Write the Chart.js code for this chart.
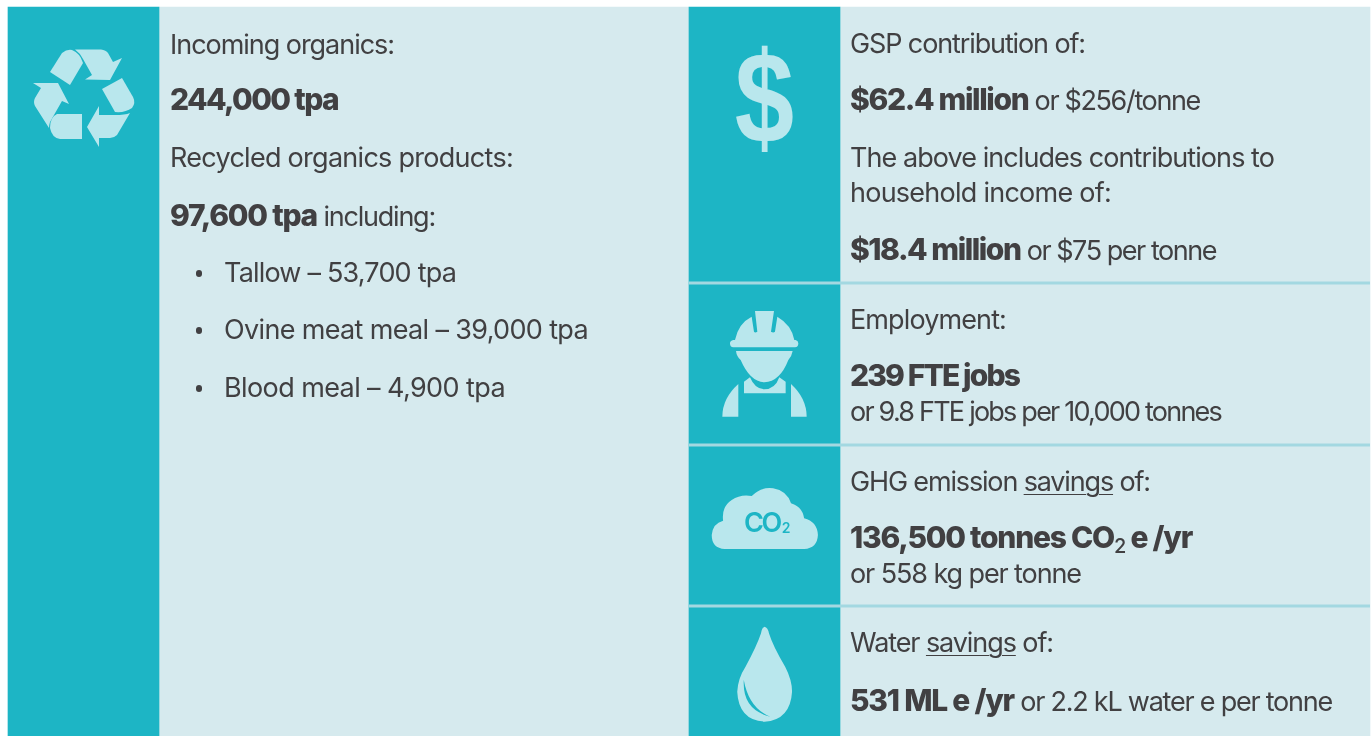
<!DOCTYPE html>
<html>
<head>
<meta charset="utf-8">
<style>
  body { margin: 0; background: #fff; }
  #wrap { position: relative; width: 1372px; height: 736px; overflow: hidden; font-family: Inter, sans-serif; color: #414042; }
  canvas { position: absolute; left: 0; top: 0; }
  svg { position: absolute; left: 0; top: 0; }
  .t { position: absolute; white-space: nowrap; font-size: 27px; letter-spacing: -1px; line-height: 34px; transform: translateY(-50%); }
  .t b { font-size: 30px; font-weight: 800; }
  .t u { text-underline-offset: 3px; text-decoration-thickness: 1px; }
  .t sub { font-size: 20px; line-height: 0; vertical-align: -5px; font-weight: 500; }
  .bullet { position: absolute; left: 195.5px; width: 6.5px; height: 6.5px; border-radius: 50%; background: #414042; }
  #dollar { position: absolute; left: 689px; width: 151px; top: 32px; text-align: center; font: 700 130px/130px "Liberation Sans", sans-serif; color: #b9e7ed; transform: scaleX(0.82); }
  #co2 { position: absolute; left: 744px; top: 508px; font: 600 27px/30px Inter, sans-serif; letter-spacing: -2.5px; color: #1db5c5; }
  #co2 sub { font-size: 14px; line-height: 0; vertical-align: -1px; letter-spacing: 0; margin-left: 2px; }
</style>
</head>
<body>
<div id="wrap">
  <canvas id="painel" width="1372" height="736"></canvas>
  <svg width="1372" height="736" fill="#b9e7ed">
    <!-- reciclagem -->
    <path d="M50,72 L62,53 Q67,49 72,50 Q80,53 83,63 L70,85 Z"/>
    <path d="M75,49.5 L101,49.5 Q106,50 108,53 L113,62 L122,58 L110,80 L85,79.5 L92,75 L83,59 Q80,53 75,49.5 Z"/>
    <path d="M102,89 L122,78 L133,97 Q136,103 132,108 Q125,113 115,112 Z"/>
    <path d="M130,113 L117,135 Q114,138 110,138 L99,138 L99,147 L87,127 L99,106 L99,115 L115,115 Q125,115 130,113 Z"/>
    <path d="M82,114 L82,139 L60,139 Q52,138 50,128 Q50,117 57,114 Z"/>
    <path d="M33,83 L58,83 L69,104 L62,101 L50,122 Q49,125 49,128 L35,106 Q33,102 35,98 L41,88 Z"/>
    <!-- trabalhador -->
    <g transform="translate(680,270) scale(0.3333)">
      <path d="M150,220 Q150,212 160,210 L165,210 Q175,160 215,140 L222,185 Q225,190 232,185 L225,123 L282,123 L273,185 Q280,190 285,185 L292,140 Q335,165 343,210 L347,210 Q355,212 355,220 Q355,232 345,232 L160,232 Q150,232 150,220 Z"/>
      <path d="M168,243 L338,243 Q335,260 325,270 Q300,335 253,337 Q210,335 182,270 Q170,260 168,243 Z"/>
      <path d="M192,335 L210,322 Q225,358 253,358 Q285,358 298,322 L317,335 L317,370 L192,370 Z"/>
      <path d="M175,342 L175,440 L127,440 Q127,385 175,342 Z"/>
      <path d="M333,342 Q380,385 380,440 L333,440 Z"/>
    </g>
    <!-- nuvem e gota -->
    <g transform="translate(680,470) scale(0.3448,0.3333)">
      <path d="M130,237 Q92,235 92,195 Q95,160 125,152 Q120,110 150,90 Q175,72 208,78 Q235,50 270,55 Q310,62 322,100 Q355,110 360,145 Q398,155 400,195 Q398,235 360,237 Z"/>
      <path d="M245,470 Q255,472 258,490 Q270,530 305,590 Q325,630 325,665 Q320,750 245,755 Q170,750 166,665 Q168,625 190,590 Q222,530 235,490 Q238,472 245,470 Z"/>
      <path d="M185,630 Q180,720 262,740 Q200,715 185,630 Z" fill="#1db5c5"/>
    </g>
  </svg>
  <div id="dollar">$</div>
  <div id="co2">CO<sub>2</sub></div>
</div>

<script src="https://cdn.jsdelivr.net/npm/chart.js@4"></script>
<script>
// textos do painel esquerdo
const leftHeadings = ["Incoming organics:", "<b>244,000 tpa</b>", "Recycled organics products:", "<b>97,600 tpa</b> including:"]
const leftProducts = ["Tallow", "Ovine meat meal", "Blood meal"]
const leftTonnes = ["53,700", "39,000", "4,900"]

// textos do painel direito, um array por linha da tabela
const gspLines = ["GSP contribution of:", "<b>$62.4 million</b> or $256/tonne", "The above includes contributions to", "household income of:", "<b>$18.4 million</b> or $75 per tonne"]
const jobLines = ["Employment:", "<b>239 FTE jobs</b>", "or 9.8 FTE jobs per 10,000 tonnes"]
const ghgLines = ["GHG emission <u>savings</u> of:", "<b>136,500 tonnes CO<sub>2</sub> e /yr</b>", "or 558 kg per tonne"]
const waterLines = ["Water <u>savings</u> of:", "<b>531 ML e /yr</b> or 2.2 kL water e per tonne"]

// centro vertical de cada linha de texto
const leftRows = [45, 100, 158, 216]
const productRows = [273, 330, 388]
const gspRows = [44, 100, 158, 193, 250]
const jobRows = [320, 376, 412]
const ghgRows = [482, 538, 574]
const waterRows = [643, 701]

// onde cada linha termina na horizontal
const leftEnds = [394, 338, 513, 435]
const productEnds = [456, 588, 505]
const gspEnds = [1085, 1200, 1274, 1111, 1216]
const jobEnds = [1006, 1019, 1221]
const ghgEnds = [1150, 1192, 1081]
const waterEnds = [1053, 1332]

// faixas do desenho, em pixels da pagina
const iconBands = [[8, 159], [689, 840]]
const textBands = [[159, 689], [840, 1370]]
const dividerRows = [283, 445, 606]
const bandRow = 371.5

const wrap = document.getElementById("wrap")

// a fonte original nao existe aqui, entao ajusta o espacamento ate a linha terminar no lugar certo
function addLine(html, x, y, end) {
  const el = document.createElement("div")
  el.className = "t"
  el.style.left = x + "px"
  el.style.top = y + "px"
  el.innerHTML = html
  wrap.appendChild(el)
  const sobra = end - x - el.getBoundingClientRect().width
  el.style.letterSpacing = (-1 + sobra / el.textContent.length) + "px"
}

leftHeadings.forEach((txt, i) => addLine(txt, 170, leftRows[i], leftEnds[i]))
leftProducts.forEach((name, i) => {
  addLine(name + " – " + leftTonnes[i] + " tpa", 224, productRows[i], productEnds[i])
  const dot = document.createElement("div")
  dot.className = "bullet"
  dot.style.top = (productRows[i] - 3) + "px"
  wrap.appendChild(dot)
})
gspLines.forEach((txt, i) => addLine(txt, 850, gspRows[i], gspEnds[i]))
jobLines.forEach((txt, i) => addLine(txt, 850, jobRows[i], jobEnds[i]))
ghgLines.forEach((txt, i) => addLine(txt, 850, ghgRows[i], ghgEnds[i]))
waterLines.forEach((txt, i) => addLine(txt, 850, waterRows[i], waterEnds[i]))

// as linhas vem primeiro porque o primeiro dataset fica por cima
const dividers = dividerRows.map(row => ({
  type: "line",
  data: [{x: iconBands[1][0], y: row}, {x: textBands[1][1], y: row}],
  borderColor: "#a3d8e1",
  borderWidth: 3,
  pointRadius: 0
}))

new Chart(document.getElementById("painel"), {
  type: "bar",
  data: {
    datasets: [
      ...dividers,
      {
        data: iconBands.map(band => ({x: band, y: bandRow})),
        backgroundColor: "#1db5c5",
        barThickness: 729,
        grouped: false
      },
      {
        data: textBands.map(band => ({x: band, y: bandRow})),
        backgroundColor: "#d6eaee",
        barThickness: 729,
        grouped: false
      }
    ]
  },
  options: {
    indexAxis: "y",
    responsive: false,
    animation: false,
    layout: {padding: 0},
    plugins: {legend: {display: false}, tooltip: {enabled: false}},
    scales: {
      x: {type: "linear", min: 0, max: 1372, display: false},
      y: {type: "linear", min: 0, max: 736, reverse: true, offset: false, display: false}
    }
  }
})
</script>
</body>
</html>
